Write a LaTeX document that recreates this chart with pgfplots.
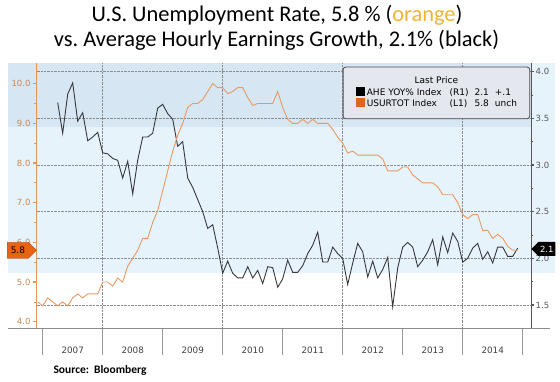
\documentclass[border=0pt]{standalone}
\usepackage{pgfplots}
\pgfplotsset{compat=1.18}
\usepackage{pgfplotstable}
\usepackage{fontspec}
\setmainfont{Carlito}
\newfontfamily\tickfont{DejaVu Sans}
\usetikzlibrary{shapes.symbols}
\definecolor{bandDark}{RGB}{214,231,243}
\definecolor{bandLight}{RGB}{230,243,251}
\definecolor{unemp}{RGB}{232,152,98}
\definecolor{ahe}{RGB}{55,55,60}
\definecolor{leftax}{RGB}{232,150,85}
\definecolor{lefttxt}{RGB}{205,135,85}
\definecolor{righttxt}{RGB}{85,85,90}
\definecolor{gridc}{RGB}{140,140,145}
\definecolor{titleorange}{RGB}{240,180,50}
\definecolor{tagorange}{RGB}{232,100,20}
\definecolor{legfill}{RGB}{228,232,238}

% AHE YoY (right axis), end-of-month positions
\pgfplotstableread{
x y
2007.250 3.67
2007.333 3.34
2007.417 3.76
2007.500 3.88
2007.583 3.47
2007.667 3.56
2007.750 3.26
2007.833 3.30
2007.917 3.35
2008.000 3.13
2008.083 3.12
2008.167 3.07
2008.250 3.05
2008.333 2.86
2008.417 3.04
2008.500 2.69
2008.583 3.05
2008.667 3.30
2008.750 3.30
2008.833 3.34
2008.917 3.61
2009.000 3.65
2009.083 3.55
2009.167 3.49
2009.250 3.20
2009.333 3.25
2009.417 2.86
2009.500 2.76
2009.583 2.63
2009.667 2.50
2009.750 2.32
2009.833 2.36
2009.917 2.11
2010.000 1.84
2010.083 1.97
2010.167 1.84
2010.250 1.79
2010.333 1.79
2010.417 1.91
2010.500 1.79
2010.583 1.87
2010.667 1.73
2010.750 1.91
2010.833 1.90
2010.917 1.69
2011.000 1.78
2011.083 1.98
2011.167 1.85
2011.250 1.85
2011.333 1.92
2011.417 2.05
2011.500 2.14
2011.583 2.28
2011.667 1.96
2011.750 1.96
2011.833 2.12
2011.917 2.05
2012.000 2.00
2012.083 1.72
2012.167 1.95
2012.250 2.16
2012.333 2.07
2012.417 1.80
2012.500 1.97
2012.583 1.79
2012.667 1.88
2012.750 2.01
2012.833 1.48
2012.917 1.90
2013.000 2.12
2013.083 2.17
2013.167 2.12
2013.250 1.91
2013.333 1.98
2013.417 2.07
2013.500 2.20
2013.583 1.93
2013.667 2.23
2013.750 2.06
2013.833 2.27
2013.917 2.18
2014.000 1.96
2014.083 2.00
2014.167 2.11
2014.250 2.16
2014.333 1.99
2014.417 2.07
2014.500 1.95
2014.583 2.12
2014.667 2.12
2014.750 2.02
2014.833 2.02
2014.917 2.11
}\aheTable

% Unemployment rate (left axis)
\pgfplotstableread{
x y
2006.917 4.5
2007.000 4.4
2007.083 4.6
2007.167 4.5
2007.250 4.4
2007.333 4.5
2007.417 4.4
2007.500 4.6
2007.583 4.7
2007.667 4.6
2007.750 4.7
2007.833 4.7
2007.917 4.7
2008.000 5.0
2008.083 5.0
2008.167 4.9
2008.250 5.1
2008.333 5.0
2008.417 5.4
2008.500 5.6
2008.583 5.8
2008.667 6.1
2008.750 6.1
2008.833 6.5
2008.917 6.8
2009.000 7.3
2009.083 7.8
2009.167 8.3
2009.250 8.7
2009.333 9.0
2009.417 9.4
2009.500 9.5
2009.583 9.5
2009.667 9.6
2009.750 9.8
2009.833 10.0
2009.917 9.9
2010.000 9.9
2010.083 9.75
2010.167 9.8
2010.250 9.9
2010.333 9.9
2010.417 9.65
2010.500 9.45
2010.583 9.5
2010.667 9.5
2010.750 9.5
2010.833 9.5
2010.917 9.8
2011.000 9.4
2011.083 9.1
2011.167 9.0
2011.250 9.0
2011.333 9.1
2011.417 9.0
2011.500 9.1
2011.583 9.0
2011.667 9.0
2011.750 9.0
2011.833 8.85
2011.917 8.65
2012.000 8.5
2012.083 8.25
2012.167 8.3
2012.250 8.2
2012.333 8.2
2012.417 8.2
2012.500 8.2
2012.583 8.2
2012.667 8.1
2012.750 7.8
2012.833 7.8
2012.917 7.8
2013.000 7.9
2013.083 7.9
2013.167 7.7
2013.250 7.6
2013.333 7.5
2013.417 7.5
2013.500 7.5
2013.583 7.4
2013.667 7.2
2013.750 7.2
2013.833 7.2
2013.917 7.0
2014.000 6.7
2014.083 6.6
2014.167 6.7
2014.250 6.7
2014.333 6.3
2014.417 6.3
2014.500 6.1
2014.583 6.2
2014.667 6.1
2014.750 5.9
2014.833 5.8
2014.917 5.8
}\unempTable

\pgfplotsset{
  base/.style={scale only axis, width=494.3pt, height=265.3pt,
    at={(36.7pt,52.7pt)}, anchor=south west,
    xmin=2006.9, xmax=2015.138, clip=false},
}

\begin{document}
\begin{tikzpicture}
% background bands
\fill[bandLight] (8pt,108pt) rectangle (555pt,318pt);
\fill[bandDark] (8pt,254pt) rectangle (531pt,318pt);

% grid axis
\begin{axis}[base, ymin=1.25, ymax=4.093,
  axis line style={draw=none},
  xtick={2008,2010,2012,2014}, ytick={1.5,2,2.5,3,3.5,4},
  xticklabels={}, yticklabels={},
  major tick length=0pt,
  grid=major, grid style={gridc, densely dotted, line width=0.6pt}]
\end{axis}

% right axis: AHE
\begin{axis}[base, ymin=1.25, ymax=4.093,
  axis x line=none, axis y line*=right,
  y axis line style={righttxt, line width=0.8pt},
  ytick={1.5,2,2.5,3,3.5,4}, minor ytick={1.25,1.75,2.25,2.75,3.25,3.75},
  tick align=outside,
  major tick length=3pt, minor tick length=2.5pt,
  every major tick/.append style={line width=1.4pt, righttxt},
  every minor tick/.append style={line width=0.6pt, righttxt},
  /pgf/number format/assume math mode=true,
  yticklabel style={font=\tickfont\fontsize{8.5}{10}\selectfont, text=righttxt,
    inner sep=1.5pt,
    /pgf/number format/fixed, /pgf/number format/fixed zerofill,
    /pgf/number format/precision=1},
]
\addplot[ahe, line width=0.9pt] table {\aheTable};
\node[signal, signal to=west, fill=black, text=white, anchor=west,
  minimum height=14pt, minimum width=24pt, inner sep=1pt,
  font=\tickfont\fontsize{8.5}{10}\selectfont] at (axis cs:2015.138,2.1) {2.1};
\end{axis}

% left axis: unemployment
\begin{axis}[base, ymin=3.834, ymax=10.52,
  axis x line=none, axis y line*=left,
  y axis line style={leftax, line width=1.3pt},
  ytick={4,5,6,7,8,9,10}, minor ytick={4.5,5.5,6.5,7.5,8.5,9.5},
  tick align=outside,
  major tick length=4pt, minor tick length=2.5pt,
  every major tick/.append style={line width=1.4pt, leftax},
  every minor tick/.append style={line width=0.7pt, leftax},
  /pgf/number format/assume math mode=true,
  yticklabel style={font=\tickfont\fontsize{8.5}{10}\selectfont, text=lefttxt,
    inner sep=2pt,
    /pgf/number format/fixed, /pgf/number format/fixed zerofill,
    /pgf/number format/precision=1},
]
\addplot[unemp, line width=0.9pt] table {\unempTable};
\node[signal, signal to=east, fill=tagorange, draw=tagorange!70!black, text=black, anchor=east,
  minimum height=16pt, minimum width=29pt, inner sep=1pt,
  font=\tickfont\fontsize{9}{10}\selectfont] at (axis cs:2006.9,5.8) {5.8};
\end{axis}

% x axis with year separators
\begin{axis}[base, ymin=0, ymax=1,
  axis y line=none, ytick=\empty, axis x line*=bottom,
  x axis line style={black!45, line width=0.8pt, shorten <=-28.7pt, shorten >=-19pt},
  xtick={2007,2008,2009,2010,2011,2012,2013,2014,2015},
  x tick label as interval,
  xticklabels={2007,2008,2009,2010,2011,2012,2013,2014},
  tick align=outside, major tick length=27pt,
  every major tick/.append style={black!40, line width=0.8pt},
  xticklabel style={font=\tickfont\fontsize{8.8}{10}\selectfont, text=black!75, yshift=12pt},
]
\end{axis}

% legend box
\node[draw=black!70, line width=0.8pt, rounded corners=2.5pt, fill=legfill,
  anchor=north west, minimum width=186.6pt, minimum height=51.6pt, inner sep=2pt,
  font=\tickfont\fontsize{9}{13}\selectfont] at (342.7pt,314.3pt) {%
  \begin{tabular}{@{}l@{\hspace{2pt}}l@{\hspace{8pt}}l@{\hspace{6pt}}l@{\hspace{6pt}}l@{}}
  \multicolumn{5}{c}{Last Price}\\[-1.5pt]
  \textcolor{black}{\rule[-0.5pt]{9pt}{9pt}} & AHE YOY\% Index & (R1) & 2.1 & +.1\\[-1.5pt]
  \textcolor{tagorange}{\rule[-0.5pt]{9pt}{9pt}} & USURTOT Index & (L1) & 5.8 & unch
  \end{tabular}};

% titles
\node[font=\fontsize{22.4}{26}\selectfont] at (277pt,366pt)
  {U.S. Unemployment Rate, 5.8 \% (\textcolor{titleorange}{orange})};
\node[font=\fontsize{22.4}{26}\selectfont] at (276.5pt,341pt)
  {vs.\ Average Hourly Earnings Growth, 2.1\% (black)};
\node[font=\bfseries\fontsize{11.5}{13}\selectfont, anchor=west] at (50pt,11pt)
  {Source:~~Bloomberg};

\pgfresetboundingbox
\path[use as bounding box] (0pt,0pt) rectangle (560pt,381pt);
\end{tikzpicture}
\end{document}
